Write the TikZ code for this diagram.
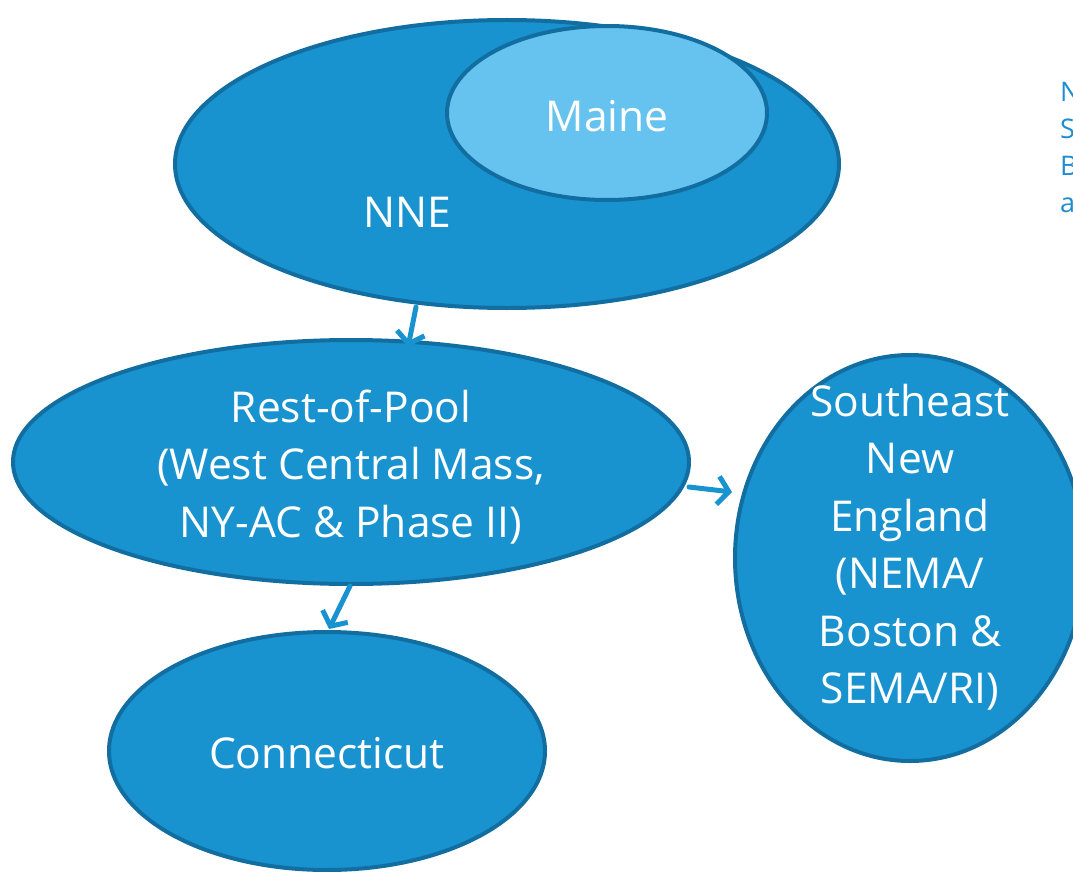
\documentclass[tikz,border=0pt]{standalone}
\usepackage{fontspec}
\setmainfont{Open Sans}
\usetikzlibrary{arrows.meta,shapes.geometric}
\definecolor{fillblue}{RGB}{25,147,208}
\definecolor{edgeblue}{RGB}{18,110,160}
\definecolor{lightblue}{RGB}{102,194,238}
\definecolor{notecol}{RGB}{30,140,210}
\tikzset{
  region/.style={ellipse, draw=edgeblue, line width=4pt, fill=fillblue, inner sep=0pt},
  lbl/.style={text=white, font=\fontsize{42.5}{57.5}\selectfont, align=center},
  conn/.style={draw=fillblue, line width=5pt, -{Straight Barb[length=11pt,width=28pt]}, line cap=round},
}
\begin{document}
\begin{tikzpicture}[x=1pt,y=-1pt]
\useasboundingbox (0,0) rectangle (1073,872);
\begin{scope}
\clip (0,0) rectangle (1073,872);
\node[region, minimum width=664pt, minimum height=288pt] (nne) at (507,164) {};
\node[region, fill=lightblue, minimum width=320pt, minimum height=174pt] (maine) at (607,113) {};
\node[lbl] (mainetxt) at (607,116) {Maine};
\node[lbl] (nnetxt) at (407,212) {NNE};
\node[region, minimum width=676pt, minimum height=244pt] (rest) at (351,462) {};
\node[lbl] (resttxt) at (351,467) {Rest-of-Pool\\(West Central Mass,\\NY-AC \& Phase II)};
\node[region, minimum width=350pt, minimum height=406pt] (se) at (910,558) {};
\node[lbl] (setxt) at (910,547) {Southeast\\New\\England\\(NEMA/\\Boston \&\\SEMA/RI)};
\node[region, minimum width=436pt, minimum height=238pt] (ct) at (327,751) {};
\node[lbl] (cttxt) at (327,753) {Connecticut};
\node[anchor=west, text=notecol, font=\fontsize{27}{37}\selectfont, align=left, inner sep=0pt] (note) at (1060,147) {N\\S\\B\\a};
\coordinate (a1s) at (416,307);
\coordinate (a1e) at (408,347);
\coordinate (a2s) at (689,487);
\coordinate (a2e) at (732,492);
\coordinate (a3s) at (350,586);
\coordinate (a3e) at (329,629);
\draw[conn] (a1s) -- (a1e);
\draw[conn] (a2s) -- (a2e);
\draw[conn] (a3s) -- (a3e);
\end{scope}
\end{tikzpicture}
\end{document}
